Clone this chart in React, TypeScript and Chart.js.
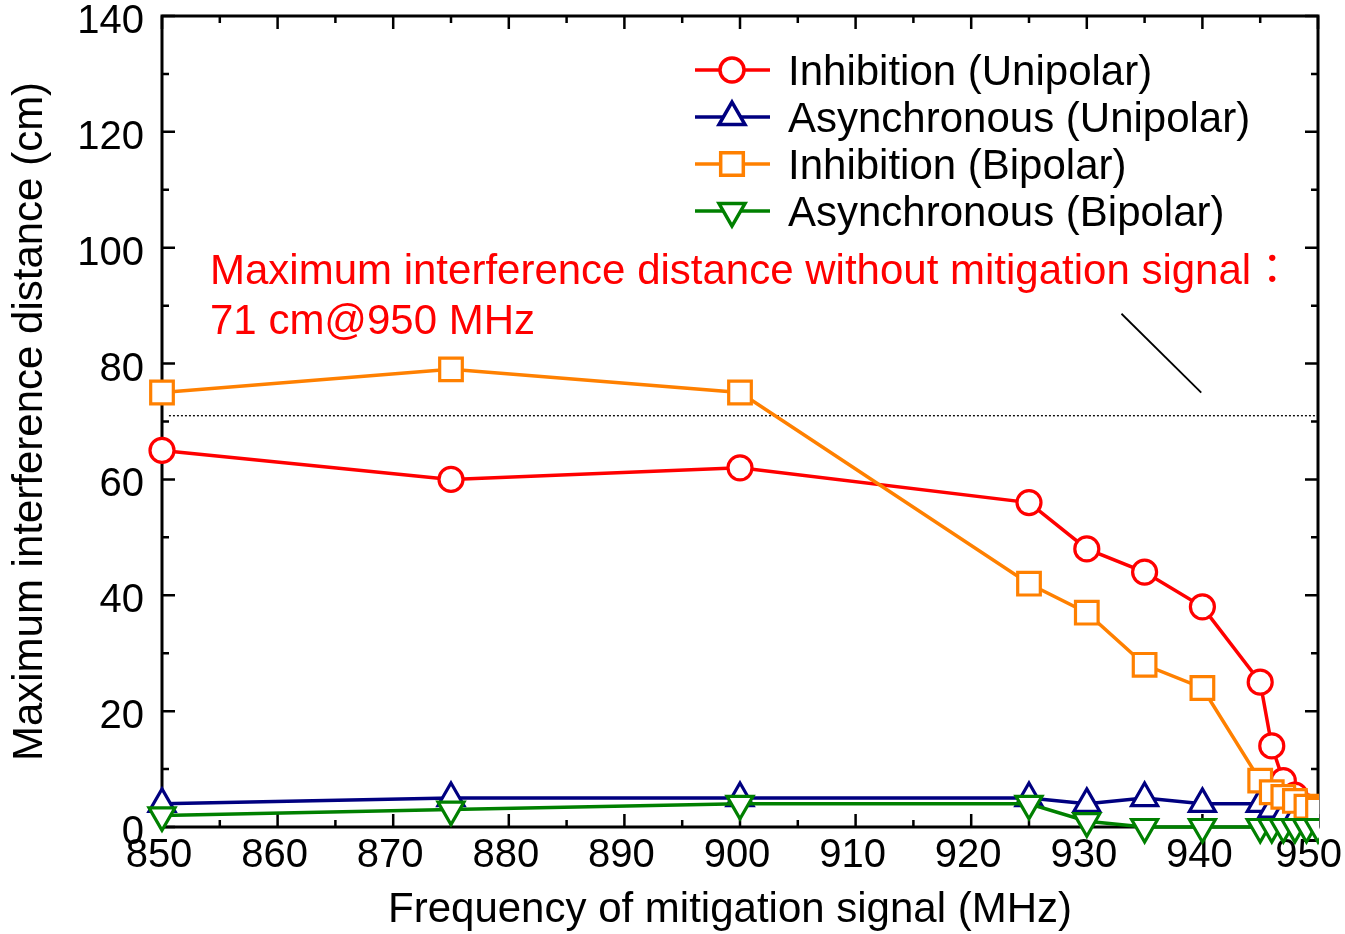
import React, { useEffect, useRef } from 'react';
import { Chart, registerables } from 'chart.js';

Chart.register(...registerables);

// ---------- data ----------
const frequencies = [850, 875, 900, 925, 930, 935, 940, 945, 946, 947, 948, 949, 950];
const inhibitionUnipolar = [65, 60, 62, 56, 48, 44, 38, 25, 14, 8, 5.5, 3.5, 2];
const asyncUnipolar = [4, 5, 5, 5, 4, 5, 4, 4, 3, 2, 1.5, 1, 0.5];
const inhibitionBipolar = [75, 79, 75, 42, 37, 28, 24, 8, 6, 5.2, 4.5, 3.5, 3];
const asyncBipolar = [2, 3, 4, 4, 1, 0, 0, 0, 0, 0, 0, 0, 0];

const seriesLabels = [
  'Inhibition (Unipolar)',
  'Asynchronous (Unipolar)',
  'Inhibition (Bipolar)',
  'Asynchronous (Bipolar)',
];

const thresholdValue = 71;
const thresholdRange = [850.6, 950];
const leaderX = [933.0, 939.9];
const leaderY = [88.6, 75];

const annotationLines = [
  'Maximum interference distance without mitigation signal\uFF1A',
  '71 cm@950 MHz',
];

const xTitle = 'Frequency of mitigation signal (MHz)';
const yTitle = 'Maximum interference distance (cm)';

const xTickValues = [850, 860, 870, 880, 890, 900, 910, 920, 930, 940, 950];
const yTickValues = [0, 20, 40, 60, 80, 100, 120, 140];

const FAMILY = 'Arial, "Liberation Sans", Helvetica, "Noto Sans CJK JP", sans-serif';
const RED = '#ff0000';
const NAVY = '#000080';
const ORANGE = '#ff8000';
const GREEN = '#008000';

function pts(ys: number[]) {
  return frequencies.map((f, i) => ({ x: f, y: ys[i] }));
}

function drawMarker(ctx: CanvasRenderingContext2D, style: string, x: number, y: number, r: number, rot: number) {
  ctx.beginPath();
  if (style === 'circle') {
    ctx.arc(x, y, r, 0, Math.PI * 2);
  } else if (style === 'rect') {
    const s = Math.SQRT1_2 * r;
    ctx.rect(x - s, y - s, 2 * s, 2 * s);
  } else {
    let rad = (rot * Math.PI) / 180;
    ctx.moveTo(x + Math.sin(rad) * r, y - Math.cos(rad) * r);
    rad += (2 * Math.PI) / 3;
    ctx.lineTo(x + Math.sin(rad) * r, y - Math.cos(rad) * r);
    rad += (2 * Math.PI) / 3;
    ctx.lineTo(x + Math.sin(rad) * r, y - Math.cos(rad) * r);
    ctx.closePath();
  }
  ctx.fill();
  ctx.stroke();
}

const framePlugin = {
  id: 'frame',
  beforeDatasetsDraw(chart: any) {
    const { ctx, chartArea } = chart;
    const xs = chart.scales.x;
    const ys = chart.scales.y;
    ctx.save();
    ctx.strokeStyle = '#000';
    ctx.lineWidth = 3;
    ctx.strokeRect(chartArea.left, chartArea.top, chartArea.right - chartArea.left, chartArea.bottom - chartArea.top);
    ctx.lineWidth = 2.5;
    ctx.beginPath();
    for (let v = 850; v <= 950; v += 5) {
      const px = xs.getPixelForValue(v);
      const len = v % 10 === 0 ? 13 : 7;
      ctx.moveTo(px, chartArea.bottom);
      ctx.lineTo(px, chartArea.bottom - len);
      ctx.moveTo(px, chartArea.top);
      ctx.lineTo(px, chartArea.top + len);
    }
    for (let v = 0; v <= 140; v += 10) {
      const py = ys.getPixelForValue(v);
      const len = v % 20 === 0 ? 13 : 7;
      ctx.moveTo(chartArea.left, py);
      ctx.lineTo(chartArea.left + len, py);
      ctx.moveTo(chartArea.right, py);
      ctx.lineTo(chartArea.right - len, py);
    }
    ctx.stroke();

    // x tick labels (kept inside the canvas at the right edge)
    ctx.fillStyle = '#000';
    ctx.font = `40px ${FAMILY}`;
    ctx.textBaseline = 'alphabetic';
    ctx.textAlign = 'left';
    xTickValues.forEach((v) => {
      const label = String(v);
      const w = ctx.measureText(label).width;
      let left = xs.getPixelForValue(v) - w / 2 - 3;
      if (left + w > chart.width - 3) left = chart.width - 3 - w;
      ctx.fillText(label, left, 867);
    });

    // x axis title
    ctx.font = `42px ${FAMILY}`;
    ctx.textAlign = 'center';
    ctx.fillText(xTitle, (chartArea.left + chartArea.right) / 2 - 10, 922);
    ctx.restore();
  },
};

const overlayPlugin = {
  id: 'overlay',
  afterDraw(chart: any) {
    const { ctx } = chart;
    ctx.save();
    // legend
    const rows = [70, 117, 164, 211];
    chart.data.datasets.slice(0, 4).forEach((ds: any, i: number) => {
      const y = rows[i];
      ctx.strokeStyle = ds.borderColor;
      ctx.lineWidth = 3.5;
      ctx.beginPath();
      ctx.moveTo(695, y);
      ctx.lineTo(770, y);
      ctx.stroke();
      ctx.fillStyle = '#fff';
      drawMarker(ctx, ds.pointStyle, 732, y, ds.pointRadius, ds.pointRotation || 0);
      ctx.fillStyle = '#000';
      ctx.font = `42px ${FAMILY}`;
      ctx.textBaseline = 'alphabetic';
      ctx.textAlign = 'left';
      ctx.fillText(ds.label, 788, y + 15);
    });
    // annotation text
    ctx.fillStyle = RED;
    ctx.font = `42px ${FAMILY}`;
    ctx.fillText(annotationLines[0], 210, 284);
    ctx.fillText(annotationLines[1], 210, 334);
    ctx.restore();
  },
};

function zeroPadding(s: any) {
  s.paddingLeft = 0;
  s.paddingRight = 0;
  s.paddingTop = 0;
  s.paddingBottom = 0;
}

export default function App() {
  const ref = useRef<HTMLCanvasElement | null>(null);

  useEffect(() => {
    if (!ref.current) return;
    Chart.defaults.font.family = FAMILY;
    Chart.defaults.color = '#000';
    const common = {
      borderWidth: 3.5,
      pointBorderWidth: 3.2,
      pointBackgroundColor: '#fff',
      pointHoverRadius: 0,
      tension: 0,
      clip: { left: false, top: false, right: 1, bottom: false },
    };
    const chart = new Chart(ref.current, {
      type: 'line',
      data: {
        datasets: [
          { ...common, label: seriesLabels[0], data: pts(inhibitionUnipolar), borderColor: RED, pointBorderColor: RED, pointStyle: 'circle', pointRadius: 12, order: 3 },
          { ...common, label: seriesLabels[1], data: pts(asyncUnipolar), borderColor: NAVY, pointBorderColor: NAVY, pointStyle: 'triangle', pointRadius: 15, order: 2 },
          { ...common, label: seriesLabels[2], data: pts(inhibitionBipolar), borderColor: ORANGE, pointBorderColor: ORANGE, pointStyle: 'rect', pointRadius: 16, order: 1 },
          { ...common, label: seriesLabels[3], data: pts(asyncBipolar), borderColor: GREEN, pointBorderColor: GREEN, pointStyle: 'triangle', pointRotation: 180, pointRadius: 15, order: 0 },
          {
            label: 'threshold',
            data: thresholdRange.map((x) => ({ x, y: thresholdValue })),
            borderColor: '#000',
            borderWidth: 1.3,
            borderDash: [2, 2],
            pointRadius: 0,
            clip: false,
            order: 5,
          },
          {
            label: 'leader',
            data: leaderX.map((x, i) => ({ x, y: leaderY[i] })),
            borderColor: '#000',
            borderWidth: 1.8,
            pointRadius: 0,
            clip: false,
            order: 5,
          },
        ] as any,
      },
      options: {
        animation: false,
        responsive: false,
        maintainAspectRatio: false,
        events: [],
        layout: { autoPadding: false, padding: { left: 0, right: 27, top: 16, bottom: 0 } } as any,
        plugins: { legend: { display: false }, tooltip: { enabled: false } },
        scales: {
          x: {
            type: 'linear',
            min: 850,
            max: 950,
            afterFit: (s: any) => { s.height = 107; zeroPadding(s); },
            afterBuildTicks: (s: any) => { s.ticks = xTickValues.map((v) => ({ value: v })); },
            grid: { display: false, drawTicks: false },
            border: { display: false },
            ticks: { display: false },
            title: { display: false },
          },
          y: {
            type: 'linear',
            min: 0,
            max: 140,
            afterFit: (s: any) => { s.width = 162; zeroPadding(s); },
            afterBuildTicks: (s: any) => { s.ticks = yTickValues.map((v) => ({ value: v })); },
            grid: { display: false, drawTicks: false },
            border: { display: false },
            ticks: { font: { size: 40, lineHeight: 1 }, padding: 18, labelOffset: 6, color: '#000', autoSkip: false },
            title: {
              display: true,
              text: yTitle,
              font: { size: 42 },
              color: '#000',
              padding: { top: 5, bottom: 0 },
            },
          },
        },
      } as any,
      plugins: [framePlugin, overlayPlugin],
    });
    return () => chart.destroy();
  }, []);

  return (
    <div style={{ position: 'absolute', left: 0, top: 0, width: 1345, height: 934, background: '#fff' }}>
      <canvas ref={ref} width={1345} height={934} />
    </div>
  );
}
